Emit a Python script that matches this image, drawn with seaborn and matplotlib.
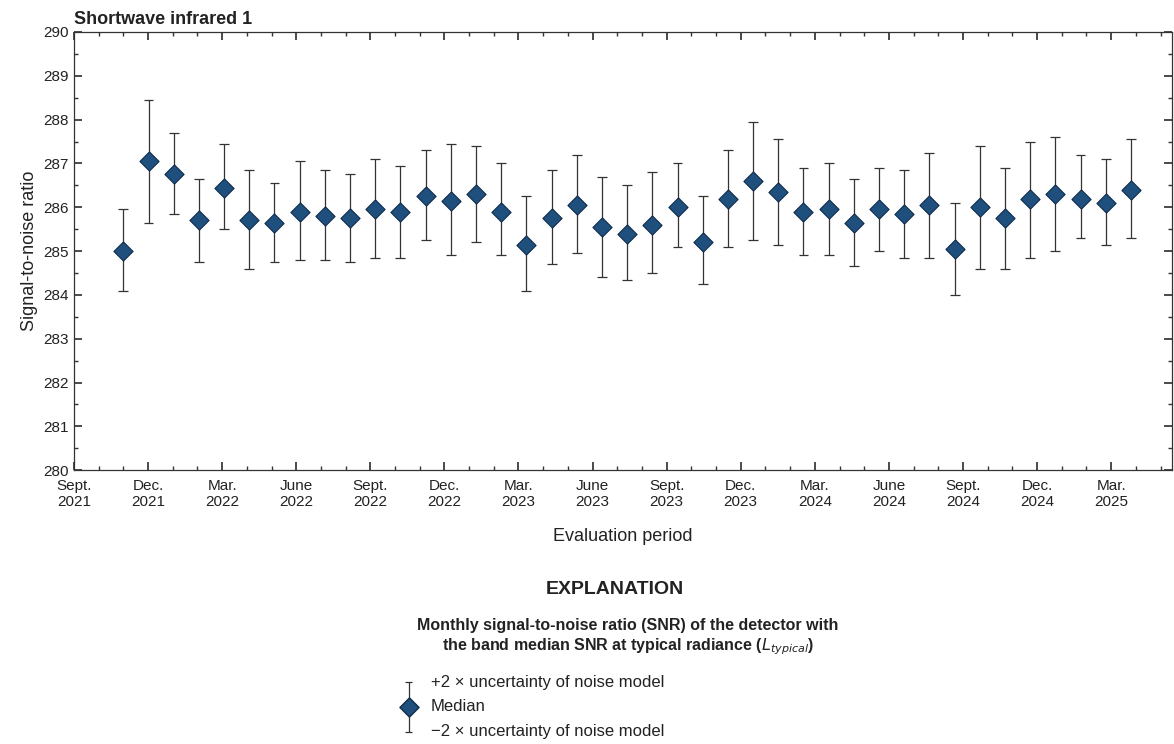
import matplotlib
matplotlib.use("Agg")
import matplotlib.pyplot as plt
import seaborn as sns
import numpy as np
import pandas as pd

sns.set_theme(style="white")
plt.rcParams['font.family'] = ['Liberation Sans', 'DejaVu Sans']
plt.rcParams['text.color'] = '#222222'

months = pd.date_range("2021-11-01", "2025-03-01", freq="MS")
median = [285.0,287.05,286.75,285.7,286.45,285.7,285.65,285.9,285.8,285.75,285.95,285.9,286.25,286.15,286.3,285.9,
          285.15,285.75,286.05,285.55,285.4,285.6,286.0,285.2,286.2,286.6,286.35,285.9,285.95,285.65,285.95,285.85,
          286.05,285.05,286.0,285.75,286.2,286.3,286.2,286.1,286.4]
upper = [285.95,288.45,287.7,286.65,287.45,286.85,286.55,287.05,286.85,286.75,287.1,286.95,287.3,287.45,287.4,287.0,
         286.25,286.85,287.2,286.7,286.5,286.8,287.0,286.25,287.3,287.95,287.55,286.9,287.0,286.65,286.9,286.85,
         287.25,286.1,287.4,286.9,287.5,287.6,287.2,287.1,287.55]
lower = [284.1,285.65,285.85,284.75,285.5,284.6,284.75,284.8,284.8,284.75,284.85,284.85,285.25,284.9,285.2,284.9,
         284.1,284.7,284.95,284.4,284.35,284.5,285.1,284.25,285.1,285.25,285.15,284.9,284.9,284.65,285.0,284.85,
         284.85,284.0,284.6,284.6,284.85,285.0,285.3,285.15,285.3]
tick_labels = ["Sept.\n2021","Dec.\n2021","Mar.\n2022","June\n2022","Sept.\n2022","Dec.\n2022","Mar.\n2023","June\n2023",
               "Sept.\n2023","Dec.\n2023","Mar.\n2024","June\n2024","Sept.\n2024","Dec.\n2024","Mar.\n2025"]

start = pd.Timestamp("2021-09-01")
idx = np.array([(m.year - start.year) * 12 + m.month - start.month for m in months], float)
x = idx + 0.02 * (idx - 2)   # evaluation dates drift slightly later in the month
df = pd.DataFrame({"x": x, "median": median, "upper": upper, "lower": lower})

fig = plt.figure(figsize=(11.74, 7.44), dpi=100)
ax = fig.add_axes([0.063, 0.368, 0.935, 0.589])
navy = "#1f4f7d"
ax.vlines(df["x"], df["lower"], df["upper"], color="#333333", lw=0.9)
ax.hlines(df["upper"], df["x"] - 0.2, df["x"] + 0.2, color="#333333", lw=0.9)
ax.hlines(df["lower"], df["x"] - 0.2, df["x"] + 0.2, color="#333333", lw=0.9)
sns.scatterplot(data=df, x="x", y="median", marker="D", s=95, color=navy, edgecolor="#0f2c4a", linewidth=0.8, ax=ax, zorder=3)

ax.set_xlim(0, 44.45)
ax.set_ylim(280, 290)
ax.set_xticks(np.arange(0, 43, 3))
ax.set_xticklabels(tick_labels, fontsize=11)
ax.set_xticks(np.arange(0, 45, 1), minor=True)
ax.set_yticks(np.arange(280, 291, 1))
ax.set_yticks(np.arange(280, 290.01, 0.5), minor=True)
ax.tick_params(axis="both", which="major", direction="in", length=6, labelsize=11, color="#333333", labelcolor="#222222")
ax.tick_params(axis="both", which="minor", direction="in", length=3, color="#333333")
ax.tick_params(axis="x", which="both", bottom=True, top=True)
ax.tick_params(axis="y", which="both", left=True, right=True)
ax.tick_params(axis="x", pad=6)
for s in ax.spines.values():
    s.set_color("#333333"); s.set_linewidth(0.9)
ax.set_xlabel("Evaluation period", fontsize=13, labelpad=14, color="#222222")
ax.set_ylabel("Signal-to-noise ratio", fontsize=13, color="#222222")
ax.text(0.0, 1.01, "Shortwave infrared 1", transform=ax.transAxes, fontsize=13, fontweight="bold", ha="left", va="bottom")

fig.text(0.524, 0.208, "EXPLANATION", fontsize=14, fontweight="bold", ha="center", va="center")
fig.text(0.535, 0.143, "Monthly signal-to-noise ratio (SNR) of the detector with\nthe band median SNR at typical radiance ($\\mathbf{\\it{L}_{typical}}$)",
         fontsize=11.5, fontweight="bold", ha="center", va="center", linespacing=1.3)
lax = fig.add_axes([0.333, 0.01, 0.03, 0.08])
lax.set_xlim(-1, 1); lax.set_ylim(-1.2, 1.2); lax.axis("off")
lax.vlines([0], [-1], [1], color="#333333", lw=0.9)
lax.hlines([1, -1], -0.2, 0.2, color="#333333", lw=0.9)
lax.scatter([0], [0], marker="D", s=95, color=navy, edgecolor="#0f2c4a", zorder=3)
fig.text(0.367, 0.083, "+2 × uncertainty of noise model", fontsize=12, va="center")
fig.text(0.367, 0.050, "Median", fontsize=12, va="center")
fig.text(0.367, 0.017, "−2 × uncertainty of noise model", fontsize=12, va="center")

fig.savefig("out.png", dpi=100)
